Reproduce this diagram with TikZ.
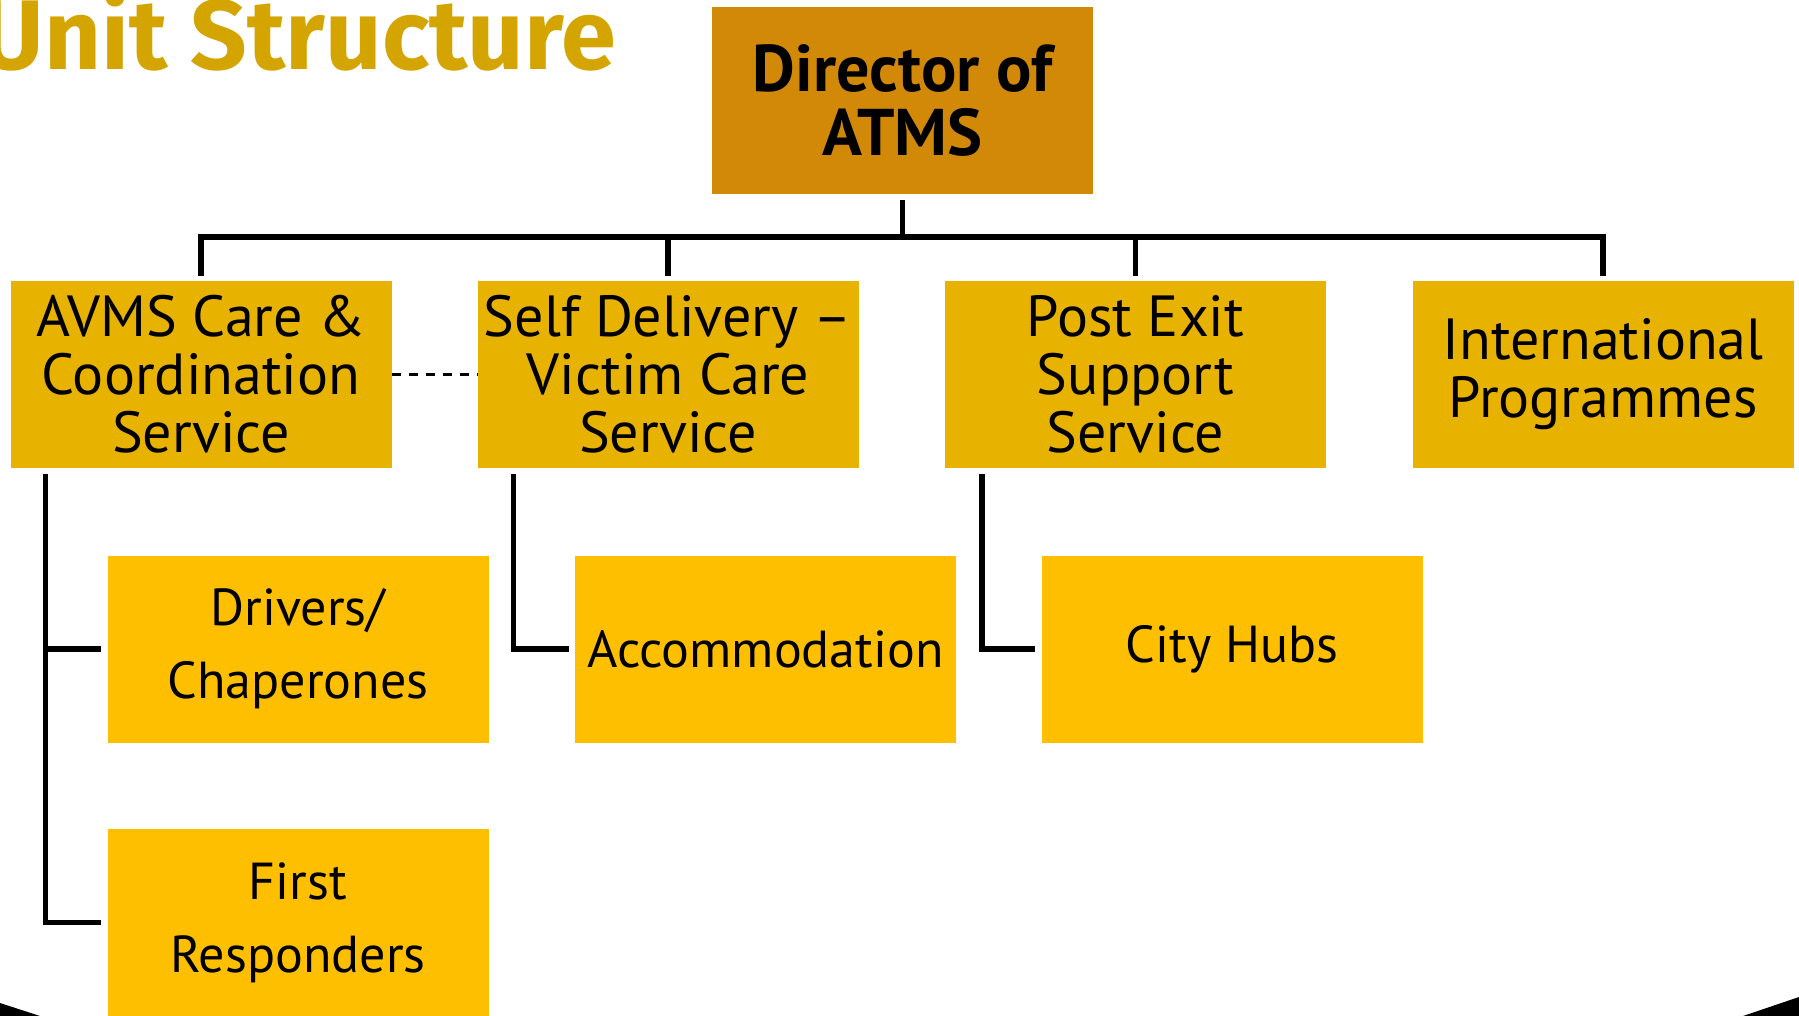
\documentclass[tikz,border=0pt]{standalone}
\usepackage{fontspec}
\setmainfont{PT Sans}
\newfontfamily\titlefont{Fira Sans}
\definecolor{dirc}{RGB}{211,137,8}
\definecolor{ltwo}{RGB}{232,178,0}
\definecolor{lthree}{RGB}{253,191,0}
\definecolor{titlec}{RGB}{212,165,0}
\begin{document}
\begin{tikzpicture}[x=1pt,y=-1pt,
  box/.style={rectangle, minimum width=381pt, minimum height=187pt, inner sep=0pt, align=center, text=black},
  lvlone/.style={box, fill=dirc, font=\fontsize{66}{64}\selectfont\bfseries},
  lvltwo/.style={box, fill=ltwo, font=\fontsize{58}{58}\selectfont},
  lvlthree/.style={box, fill=lthree, font=\fontsize{52}{73}\selectfont},
  conn/.style={line width=5.5pt, draw=black},
  dashconn/.style={line width=2.6pt, draw=black, dash pattern=on 9pt off 8pt},
]
\useasboundingbox (0,0) rectangle (1799,1016);
\clip (0,0) rectangle (1799,1016);
\fill[white] (0,0) rectangle (1799,1016);

\node[anchor=base east, text=titlec, font=\titlefont\fontsize{99}{99}\selectfont\bfseries, inner sep=0pt] (title) at (616,70) {Unit Structure};

\node[lvlone] (dir) at (902.5,100.5) {Director of\\ATMS};

\node[lvltwo] (avms) at (201,374.5) {AVMS Care \&\\Coordination\\Service};
\node[lvltwo] (self) at (668,374.5) {Self Delivery –\\Victim Care\\Service};
\node[lvltwo] (post) at (1135.5,374.5) {Post Exit\\Support\\Service};
\node[lvltwo] (intl) at (1603,374.5) {International\\Programmes};

\node[lvlthree] (drv) at (298,649) {Drivers/\\Chaperones};
\node[lvlthree] (acc) at (765.5,649) {Accommodation};
\node[lvlthree] (hubs) at (1232,649) {City Hubs};
\node[lvlthree] (first) at (298,922.5) {First\\Responders};

\coordinate (bus) at (902.5,237);
\draw[conn, shorten <=6pt] (dir.south) -- (bus);
\draw[conn, shorten >=5pt] (bus) -| (avms.north);
\draw[conn, shorten >=5pt] (bus) -| (self.north);
\draw[conn, shorten >=5pt] (bus) -| (post.north);
\draw[conn, shorten >=5pt] (bus) -| (intl.north);

\draw[dashconn] (avms.east) -- (self.west);

\draw[conn] ([xshift=35pt,yshift=-6pt]avms.south west) |- ([xshift=-6pt]drv.west);
\draw[conn] ([xshift=35pt,yshift=-6pt]avms.south west) |- ([xshift=-6pt]first.west);
\draw[conn] ([xshift=36pt,yshift=-6pt]self.south west) |- ([xshift=-6pt]acc.west);
\draw[conn] ([xshift=37pt,yshift=-6pt]post.south west) |- ([xshift=-6pt]hubs.west);

\fill[black] (0,1003) -- (40,1016) -- (0,1016) -- cycle;
\fill[black] (1743,1016) -- (1799,997) -- (1799,1016) -- cycle;
\end{tikzpicture}
\end{document}
